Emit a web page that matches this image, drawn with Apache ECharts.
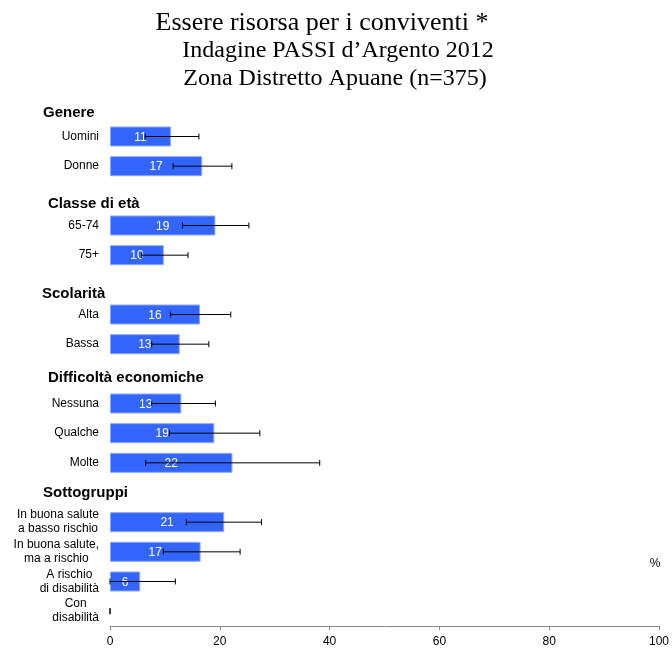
<!DOCTYPE html>
<html>
<head>
<meta charset="utf-8">
<script src="https://cdn.jsdelivr.net/npm/echarts@6/dist/echarts.min.js"></script>
<style>html,body{margin:0;padding:0;background:#fff}#c{width:672px;height:648px}</style>
</head>
<body>
<div id="c"></div>
<script>
// Rows (top to bottom); empty strings are group-header slots
var categories = ['', 'Uomini', 'Donne', '', '65-74', '75+', '', 'Alta', 'Bassa', '', 'Nessuna', 'Qualche', 'Molte', '',
  'In buona salute\na basso rischio', 'In buona salute,\nma a rischio', 'A rischio\ndi disabilità', 'Con\ndisabilità'];
var values = [null, 11.1, 16.8, null, 19.2, 9.8, null, 16.4, 12.7, null, 13.0, 19.0, 22.3, null, 20.8, 16.5, 5.5, 0];
var ciLow  = [null, 6.4, 11.5, null, 13.2, 5.8, null, 11.0, 7.6, null, 7.6, 10.8, 6.5, null, 13.9, 9.7, 0, 0];
var ciHigh = [null, 16.2, 22.2, null, 25.3, 14.2, null, 22.0, 18.0, null, 19.2, 27.3, 38.2, null, 27.6, 23.7, 11.9, 0];
var headers = ['Genere', 'Classe di età', 'Scolarità', 'Difficoltà economiche', 'Sottogruppi'];
var xTicks = [0, 20, 40, 60, 80, 100];
var titleLines = ['Essere risorsa per i conviventi *', 'Indagine PASSI d\u2019Argento 2012', 'Zona Distretto Apuane (n=375)'];

var chart = echarts.init(document.getElementById('c'), null, {renderer: 'canvas'});

var barData = values.map(function (v) {
  if (v === 0) return {value: v, itemStyle: {borderWidth: 0, color: 'rgba(0,0,0,0)'}};
  return v;
});
var errData = [];
for (var i = 0; i < categories.length; i++) {
  if (ciLow[i] !== null) errData.push([ciLow[i], ciHigh[i], i]);
}

var headerPos = [[43, 113], [48, 204], [42, 294], [48, 378], [43, 493]];
var graphics = headers.map(function (h, k) {
  return {type: 'text', x: headerPos[k][0], y: headerPos[k][1],
    style: {text: h, font: 'bold 15px "Liberation Sans", Arial, sans-serif', fill: '#000', align: 'left', verticalAlign: 'middle'}};
});
graphics.push({type: 'text', x: 655, y: 564,
  style: {text: '%', font: '12px "Liberation Sans", Arial, sans-serif', fill: '#000', align: 'center', verticalAlign: 'middle'}});
var tPos = [[322, 23, 26], [338, 51, 24], [335, 79, 24]];
titleLines.forEach(function (t, k) {
  graphics.push({type: 'text', x: tPos[k][0], y: tPos[k][1],
    style: {text: t, font: tPos[k][2] + 'px "Liberation Serif", "Times New Roman", serif', fill: '#000', align: 'center', verticalAlign: 'middle'}});
});

var option = {
  animation: false,
  backgroundColor: '#fff',
  grid: {left: 110, right: 12, top: 92, bottom: 20, containLabel: false},
  xAxis: {
    type: 'value', min: xTicks[0], max: xTicks[xTicks.length - 1], interval: 20,
    axisLine: {show: true, lineStyle: {color: '#868686', width: 1}},
    axisTick: {show: true, length: 4, lineStyle: {color: '#868686'}},
    splitLine: {show: false},
    axisLabel: {color: '#000', fontSize: 12, fontFamily: '"Liberation Sans", Arial, sans-serif', margin: 10}
  },
  yAxis: {
    type: 'category', data: categories, inverse: true,
    axisLine: {show: false}, axisTick: {show: false},
    axisLabel: {
      interval: 0, showMinLabel: true, showMaxLabel: true,
      margin: 11, color: '#000', fontSize: 12, fontFamily: '"Liberation Sans", Arial, sans-serif', lineHeight: 14,
      formatter: function (v) {
        if (!v) return '';
        return v.split('\n').map(function (s) { return '{c|' + s + '}'; }).join('\n');
      },
      rich: {c: {align: 'center', fontSize: 12, lineHeight: 14, color: '#000', fontFamily: '"Liberation Sans", Arial, sans-serif'}}
    }
  },
  series: [
    {
      type: 'bar', data: barData, barWidth: 20,
      itemStyle: {color: '#3366ff', borderColor: '#8fa6ff', borderWidth: 1},
      label: {
        show: true, position: 'inside', color: '#fff', fontSize: 12,
        fontFamily: '"Liberation Sans", Arial, sans-serif', offset: [0, 1],
        formatter: function (p) { return p.value ? String(Math.round(p.value)) : ''; }
      },
      z: 2
    },
    {
      type: 'custom', data: errData, z: 3,
      renderItem: function (params, api) {
        var lo = api.coord([api.value(0), api.value(2)]);
        var hi = api.coord([api.value(1), api.value(2)]);
        var h = 3;
        var st = {stroke: '#000', lineWidth: 1};
        return {type: 'group', children: [
          {type: 'line', shape: {x1: lo[0], y1: lo[1], x2: hi[0], y2: hi[1]}, style: st},
          {type: 'line', shape: {x1: lo[0], y1: lo[1] - h, x2: lo[0], y2: lo[1] + h}, style: st},
          {type: 'line', shape: {x1: hi[0], y1: hi[1] - h, x2: hi[0], y2: hi[1] + h}, style: st}
        ]};
      }
    }
  ],
  graphic: graphics
};
chart.setOption(option);
</script>
</body>
</html>
